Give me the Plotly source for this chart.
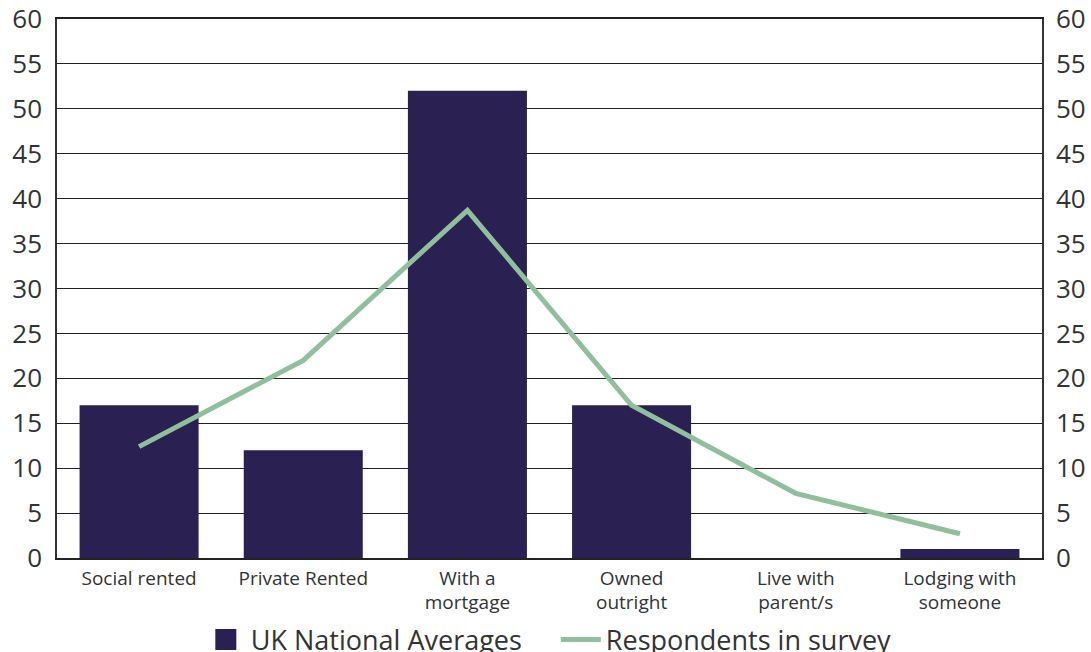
import plotly.graph_objects as go

categories = ["Social rented", "Private Rented", "With a<br>mortgage", "Owned<br>outright",
              "Live with<br>parent/s", "Lodging with<br>someone"]
uk_national = [17, 12, 52, 17, 0, 1]
respondents = [12.4, 22, 38.7, 17, 7.2, 2.7]
y_ticks = list(range(0, 61, 5))

font_family = "Open Sans, Noto Sans, sans-serif"
text_color = "#333333"
bar_color = "#2a2052"
line_color = "#8fbf9b"

fig = go.Figure()
fig.add_trace(go.Bar(x=categories, y=uk_national, name="UK National Averages",
                     marker=dict(color=bar_color, line=dict(width=0)), showlegend=False,
                     legendgroup="uk"))
# legend-only entry with a larger square symbol for the bar series
fig.add_trace(go.Scatter(x=[None], y=[None], name="UK National Averages", mode="markers",
                         legendgroup="uk",
                         marker=dict(symbol="square", size=16, color=bar_color,
                                     line=dict(color=bar_color, width=5))))
fig.add_trace(go.Scatter(x=categories, y=respondents, name="Respondents in survey",
                         mode="lines", line=dict(color=line_color, width=5)))
fig.add_trace(go.Scatter(x=categories, y=respondents, yaxis="y2", mode="lines",
                         line=dict(width=0), showlegend=False, hoverinfo="skip"))

fig.update_layout(
    width=1091, height=652,
    margin=dict(l=57, r=49, t=19, b=94, autoexpand=False),
    paper_bgcolor="white", plot_bgcolor="white",
    font=dict(family=font_family, color=text_color),
    bargap=0.275,
    showlegend=True,
    legend=dict(orientation="h", x=0.146, xanchor="left", y=-0.152, yanchor="middle",
                font=dict(size=27, color=text_color), itemwidth=40, traceorder="normal",
                entrywidth=300, entrywidthmode="pixels"),
    xaxis=dict(showgrid=False, showline=True, mirror=True, linecolor="#222222", linewidth=1.5,
               ticks="", tickfont=dict(size=19, color=text_color), automargin=False,
               ticklabelstandoff=2),
    yaxis=dict(range=[0, 60], tickvals=y_ticks, showgrid=True, gridcolor="#222222", gridwidth=1.2,
               showline=True, linecolor="#333333", linewidth=1.5, zeroline=False, automargin=False,
               ticks="", tickfont=dict(size=26, color=text_color), ticklabelstandoff=8),
    yaxis2=dict(range=[0, 60], tickvals=y_ticks, overlaying="y", side="right", showgrid=False,
                showline=True, linecolor="#333333", linewidth=1.5, zeroline=False, automargin=False,
                ticks="", tickfont=dict(size=26, color=text_color), ticklabelstandoff=7),
)

fig.write_html("out.html", config={"displayModeBar": False},
               post_script="document.body.style.margin='0';document.body.style.padding='0';")
